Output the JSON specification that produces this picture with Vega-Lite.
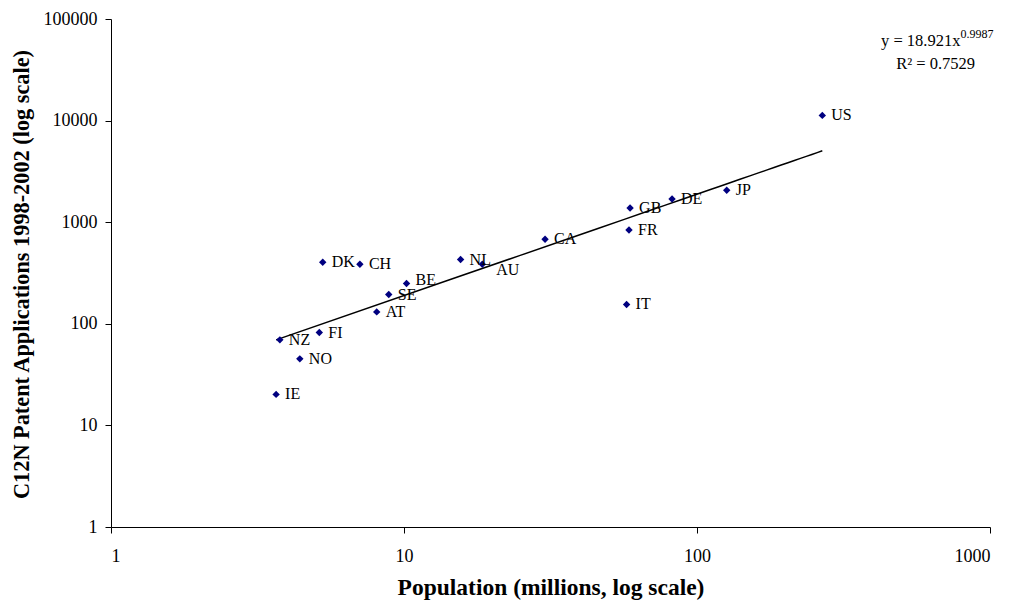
{
  "$schema": "https://vega.github.io/schema/vega-lite/v6.json",
  "width": 879,
  "height": 508,
  "autosize": "none",
  "padding": {"left": 111, "top": 19, "right": 27, "bottom": 80},
  "background": "white",
  "config": {
    "font": "Liberation Serif",
    "view": {"stroke": null},
    "axis": {
      "domainColor": "black",
      "tickColor": "black",
      "domainWidth": 1,
      "tickWidth": 1,
      "tickSize": 6,
      "grid": false,
      "labelColor": "black",
      "labelFont": "Liberation Serif",
      "labelFontSize": 18,
      "titleFont": "Liberation Serif",
      "titleFontSize": 22,
      "titleFontWeight": "bold",
      "titleColor": "black"
    }
  },
  "datasets": {
    "countries": [
      {"country": "US", "pop": 267.7, "apps": 11250},
      {"country": "JP", "pop": 126.3, "apps": 2060},
      {"country": "DE", "pop": 82.2, "apps": 1691},
      {"country": "GB", "pop": 59.1, "apps": 1380},
      {"country": "FR", "pop": 58.6, "apps": 838},
      {"country": "IT", "pop": 57.5, "apps": 155},
      {"country": "CA", "pop": 30.3, "apps": 679},
      {"country": "NL", "pop": 15.6, "apps": 429},
      {"country": "AU", "pop": 18.5, "apps": 386},
      {"country": "BE", "pop": 10.2, "apps": 249},
      {"country": "SE", "pop": 8.87, "apps": 194},
      {"country": "AT", "pop": 8.07, "apps": 131},
      {"country": "DK", "pop": 5.28, "apps": 403},
      {"country": "CH", "pop": 7.07, "apps": 386},
      {"country": "FI", "pop": 5.14, "apps": 82},
      {"country": "NZ", "pop": 3.77, "apps": 69.5},
      {"country": "NO", "pop": 4.41, "apps": 45.2},
      {"country": "IE", "pop": 3.66, "apps": 20.2}
    ]
  },
  "encoding": {
    "x": {
      "field": "pop",
      "type": "quantitative",
      "scale": {"type": "log", "domain": [1, 1000], "nice": false},
      "axis": {
        "title": "Population (millions, log scale)",
        "values": [1, 10, 100, 1000],
        "format": "d",
        "labelPadding": 14,
        "labelBaseline": "top",
        "titleBaseline": "middle",
        "titleFontSize": 23.5,
        "titleY": 60
      }
    },
    "y": {
      "field": "apps",
      "type": "quantitative",
      "scale": {"type": "log", "domain": [1, 100000], "nice": false},
      "axis": {
        "title": "C12N Patent Applications 1998-2002 (log scale)",
        "values": [1, 10, 100, 1000, 10000, 100000],
        "format": "d",
        "labelPadding": 8,
        "titleBaseline": "middle",
        "titleAlign": "center",
        "titleFontSize": 22.3,
        "titleX": -90,
        "titleY": 255
      }
    }
  },
  "layer": [
    {
      "data": {"name": "countries"},
      "transform": [{"regression": "apps", "on": "pop", "method": "pow"}],
      "mark": {"type": "line", "color": "black", "strokeWidth": 1.5}
    },
    {
      "data": {"name": "countries"},
      "mark": {"type": "point", "shape": "diamond", "filled": true, "color": "#000080", "opacity": 1, "size": 55}
    },
    {
      "data": {"name": "countries"},
      "transform": [{"filter": "datum.country !== 'AU' && datum.country !== 'BE'"}],
      "mark": {"type": "text", "align": "left", "baseline": "middle", "dx": 9, "fontSize": 16, "color": "black"},
      "encoding": {"text": {"field": "country"}}
    },
    {
      "data": {"name": "countries"},
      "transform": [{"filter": "datum.country === 'AU'"}],
      "mark": {"type": "text", "align": "left", "baseline": "middle", "dx": 14, "dy": 6, "fontSize": 16, "color": "black"},
      "encoding": {"text": {"field": "country"}}
    },
    {
      "data": {"name": "countries"},
      "transform": [{"filter": "datum.country === 'BE'"}],
      "mark": {"type": "text", "align": "left", "baseline": "middle", "dx": 9, "dy": -4, "fontSize": 16, "color": "black"},
      "encoding": {"text": {"field": "country"}}
    },
    {
      "data": {"values": [{"label": "y = 18.921x", "pop": 793, "apps": 60100}]},
      "mark": {"type": "text", "align": "right", "baseline": "middle", "fontSize": 16.5, "color": "black"},
      "encoding": {"text": {"field": "label"}}
    },
    {
      "data": {"values": [{"label": "0.9987", "pop": 793, "apps": 71200}]},
      "mark": {"type": "text", "align": "left", "baseline": "middle", "fontSize": 12, "color": "black"},
      "encoding": {"text": {"field": "label"}}
    },
    {
      "data": {"values": [{"label": "R² = 0.7529", "pop": 652, "apps": 35700}]},
      "mark": {"type": "text", "align": "center", "baseline": "middle", "fontSize": 16.5, "color": "black"},
      "encoding": {"text": {"field": "label"}}
    }
  ]
}
